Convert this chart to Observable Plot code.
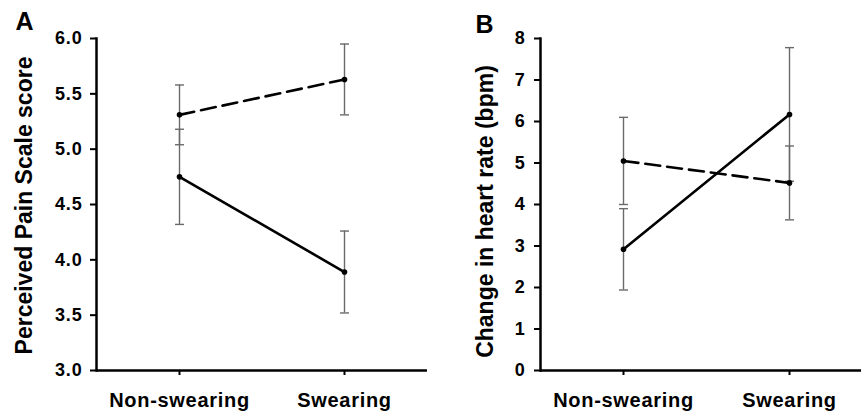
<!DOCTYPE html>
<html><head><meta charset="utf-8">
<script src="https://cdn.jsdelivr.net/npm/d3@7"></script>
<script src="https://cdn.jsdelivr.net/npm/@observablehq/plot@0.6"></script>
<style>
html,body{margin:0;padding:0;background:#fff;}
#wrap{position:relative;width:861px;height:413px;overflow:hidden;background:#fff;}
#a,#b{position:absolute;top:0;}
#a{left:0;width:430px}
#b{left:430px;width:442px}
g[aria-label="x-axis tick label"] text{letter-spacing:0.7px}
g[aria-label="y-axis tick label"] text{letter-spacing:0.8px}
</style></head><body><div id="wrap"><div id="a"></div><div id="b"></div></div>
<script>
// categories
const conditions = ["Non-swearing", "Swearing"];
const seriesNames = ["solid", "dashed"];

// Panel A: Perceived Pain Scale score (mean, SE)
const painSolid = [4.75, 3.89];
const painSolidSE = [0.43, 0.37];
const painDashed = [5.31, 5.63];
const painDashedSE = [0.27, 0.32];
const painTicks = [3.0, 3.5, 4.0, 4.5, 5.0, 5.5, 6.0];

// Panel B: Change in heart rate (bpm) (mean, SE)
const hrSolid = [2.92, 6.17];
const hrSolidSE = [0.98, 1.61];
const hrDashed = [5.05, 4.52];
const hrDashedSE = [1.05, 0.89];
const hrTicks = [0, 1, 2, 3, 4, 5, 6, 7, 8];

function rowsOf(solid, solidSE, dashed, dashedSE) {
  const rows = [];
  conditions.forEach((c, i) => {
    rows.push({cond: c, series: "solid", mean: solid[i], lo: solid[i] - solidSE[i], hi: solid[i] + solidSE[i]});
    rows.push({cond: c, series: "dashed", mean: dashed[i], lo: dashed[i] - dashedSE[i], hi: dashed[i] + dashedSE[i]});
  });
  return rows;
}

const cap = {draw(ctx) { ctx.moveTo(-4.5, 0); ctx.lineTo(4.5, 0); }};
const FONT = "'Liberation Sans', Arial, Helvetica, sans-serif";

function panel(o) {
  const rows = o.rows;
  return Plot.plot({
    width: o.width, height: 413,
    marginTop: 38, marginBottom: 43, marginLeft: o.marginLeft, marginRight: o.marginRight,
    style: {fontFamily: FONT, color: "#000", background: "#fff", overflow: "visible", maxWidth: "none"},
    x: {type: "point", domain: conditions, padding: 0.5, axis: null},
    y: {domain: o.domain, axis: null},
    marks: [
      Plot.axisX({tickSize: 5, tickPadding: 17, fontSize: 20, fontWeight: "bold", strokeWidth: 2, label: null}),
      Plot.axisY({ticks: o.ticks, tickFormat: o.fmt, tickSize: 6, tickPadding: o.tickPadding, fontSize: 18, fontWeight: "bold", strokeWidth: 2, label: null}),
      Plot.frame({anchor: "left", strokeWidth: 2.5}),
      Plot.ruleY([o.domain[0]], {strokeWidth: 2.5}),
      Plot.ruleX(rows, {x: "cond", y1: "lo", y2: "hi", stroke: "#6a6a6a", strokeWidth: 1.4}),
      Plot.dot(rows, {x: "cond", y: "lo", symbol: cap, fill: "none", stroke: "#6a6a6a", strokeWidth: 1.4}),
      Plot.dot(rows, {x: "cond", y: "hi", symbol: cap, fill: "none", stroke: "#6a6a6a", strokeWidth: 1.4}),
      Plot.line(rows.filter(d => d.series === "solid"), {x: "cond", y: "mean", stroke: "#000", strokeWidth: 2.6}),
      Plot.line(rows.filter(d => d.series === "dashed"), {x: "cond", y: "mean", stroke: "#000", strokeWidth: 2.6, strokeDasharray: "15,7"}),
      Plot.dot(rows, {x: "cond", y: "mean", r: 2.8, fill: "#000", stroke: "none"}),
      Plot.text([o.title], {text: d => d, frameAnchor: "left", textAnchor: "middle", lineAnchor: "middle", rotate: -90, dx: o.titleDx, dy: o.titleDy, fontSize: 23, fontWeight: "bold", fill: "#000"}),
      Plot.text([o.letter], {text: d => d, frameAnchor: "top-left", textAnchor: "start", lineAnchor: "middle", dx: o.letterDx, dy: o.letterDy, fontSize: 25, fontWeight: "bold", fill: "#000"})
    ]
  });
}

document.getElementById("a").append(panel({
  rows: rowsOf(painSolid, painSolidSE, painDashed, painDashedSE),
  width: 430, marginLeft: 96, marginRight: 3,
  domain: [3, 6], ticks: painTicks, fmt: d3.format(".1f"), tickPadding: 8,
  title: "Perceived Pain Scale score", titleDx: -72, titleDy: 1,
  letter: "A", letterDx: -81, letterDy: -17
}));

document.getElementById("b").append(panel({
  rows: rowsOf(hrSolid, hrSolidSE, hrDashed, hrDashedSE),
  width: 442, marginLeft: 110, marginRight: 0,
  domain: [0, 8], ticks: hrTicks, fmt: d3.format("d"), tickPadding: 9,
  title: "Change in heart rate (bpm)", titleDx: -55, titleDy: 7,
  letter: "B", letterDx: -65, letterDy: -14
}));
</script></body></html>
